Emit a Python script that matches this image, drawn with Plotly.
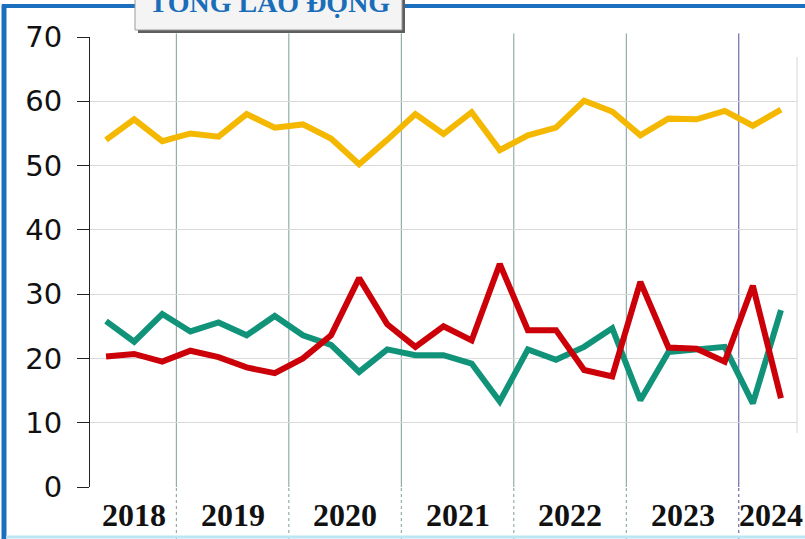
import plotly.graph_objects as go

# ---- data ----
years = ["2018", "2019", "2020", "2021", "2022", "2023", "2024"]
quarters_per_year = [3, 4, 4, 4, 4, 4, 2]
series_yellow = [54.0, 57.2, 53.8, 55.0, 54.5, 58.0, 55.9, 56.4, 54.2, 50.2, 54.0, 58.0,
                 54.9, 58.3, 52.4, 54.7, 55.9, 60.1, 58.4, 54.7, 57.3, 57.2, 58.5, 56.2, 58.7]
series_teal = [25.8, 22.6, 26.9, 24.2, 25.6, 23.6, 26.6, 23.6, 22.1, 17.9, 21.4, 20.5,
               20.5, 19.2, 13.3, 21.4, 19.8, 21.8, 24.7, 13.5, 21.0, 21.3, 21.8, 13.0, 27.5]
series_red = [20.3, 20.7, 19.5, 21.2, 20.2, 18.6, 17.7, 20.0, 23.6, 32.5, 25.3, 21.8,
              25.0, 22.8, 34.7, 24.4, 24.4, 18.2, 17.2, 31.9, 21.7, 21.5, 19.5, 31.3, 13.8]
y_ticks = [0, 10, 20, 30, 40, 50, 60, 70]
title_text = "TỔNG LAO ĐỘNG"

# ---- layout geometry ----
W, H = 805, 539
L, R, T, B = 90, 8, 37, 52
PW, PH = W - L - R, H - T - B


def px(xp):
    return (xp - L) / PW


def py(yp):
    return (T + PH - yp) / PH


n = len(series_yellow)
xs = list(range(n))
x_range = [-0.57, n - 1 + 0.57]

fig = go.Figure()
fig.add_trace(go.Scatter(x=xs, y=series_yellow, mode="lines",
                         line=dict(color="#F5B800", width=6), showlegend=False))
fig.add_trace(go.Scatter(x=xs, y=series_teal, mode="lines",
                         line=dict(color="#11937A", width=6), showlegend=False))
fig.add_trace(go.Scatter(x=xs, y=series_red, mode="lines",
                         line=dict(color="#CC0008", width=6), showlegend=False))

shapes = []
annotations = []

# year separators and year labels
start = 0
bounds = []
for k, q in enumerate(quarters_per_year):
    end = start + q
    bounds.append((start - 0.5, end - 0.5))
    start = end
for k, (b0, b1) in enumerate(bounds):
    if k > 0:
        col = "#4E4E96" if k == len(bounds) - 1 else "#7F9C9C"
        shapes.append(dict(type="line", xref="x", yref="paper", x0=b0, x1=b0, y0=0, y1=1.008,
                           line=dict(color=col, width=1), layer="below"))
        shapes.append(dict(type="line", xref="x", yref="paper", x0=b0, x1=b0, y0=py(H), y1=0,
                           line=dict(color=col, width=1, dash="3px,3px"), layer="below"))
    lo = max(b0, x_range[0])
    hi = b1 if k < len(bounds) - 1 else b1 + 0.3
    annotations.append(dict(x=(lo + hi) / 2, y=py(515), xref="x", yref="paper",
                            text="<b>%s</b>" % years[k], showarrow=False,
                            xanchor="center", yanchor="middle",
                            font=dict(family="Liberation Serif", size=32, color="#111")))

# right light border of plot area
shapes.append(dict(type="line", xref="paper", yref="paper", x0=px(797), x1=px(797),
                   y0=py(433), y1=py(57), line=dict(color="#D6D6D6", width=1)))

# outer blue frame
shapes.append(dict(type="line", xref="paper", yref="paper", x0=px(4), x1=px(4),
                   y0=py(5), y1=py(H + 2), line=dict(color="#1B6FBF", width=5)))
shapes.append(dict(type="line", xref="paper", yref="paper", x0=px(2), x1=px(W + 2),
                   y0=py(6), y1=py(6), line=dict(color="#1B6FBF", width=4)))
shapes.append(dict(type="line", xref="paper", yref="paper", x0=px(6), x1=px(W + 2),
                   y0=py(537), y1=py(537), line=dict(color="#BDE6F4", width=3)))

# title box (shadow + box)
shapes.append(dict(type="rect", xref="paper", yref="paper", x0=px(138), x1=px(405),
                   y0=py(33), y1=py(-5), fillcolor="#5E5E5E", line=dict(width=0)))
shapes.append(dict(type="rect", xref="paper", yref="paper", x0=px(135), x1=px(402),
                   y0=py(30), y1=py(-5), fillcolor="#F4F4F4",
                   line=dict(color="#9A9A9A", width=1)))
annotations.append(dict(x=px(269), y=py(2), xref="paper", yref="paper", text="<b>%s</b>" % title_text,
                        showarrow=False, xanchor="center", yanchor="middle",
                        font=dict(family="Liberation Serif", size=28, color="#1A6DB8")))

fig.update_layout(
    width=W, height=H, autosize=False,
    margin=dict(l=L, r=R, t=T, b=B, pad=0),
    paper_bgcolor="white", plot_bgcolor="white",
    xaxis=dict(range=x_range, showticklabels=False, showgrid=False, zeroline=False,
               showline=False, ticks=""),
    yaxis=dict(range=[0, 70], tickvals=y_ticks, showgrid=True, gridcolor="#D9D9D9",
               gridwidth=1, zeroline=False, showline=True, linecolor="#222", linewidth=1,
               ticks="outside", ticklen=12, tickcolor="#222", tickwidth=1,
               ticklabelstandoff=9,
               tickfont=dict(family="DejaVu Sans", size=29, color="#111")),
    shapes=shapes, annotations=annotations,
)

fig.write_html("out.html", config={"displayModeBar": False},
               post_script="document.body.style.margin='0';")
